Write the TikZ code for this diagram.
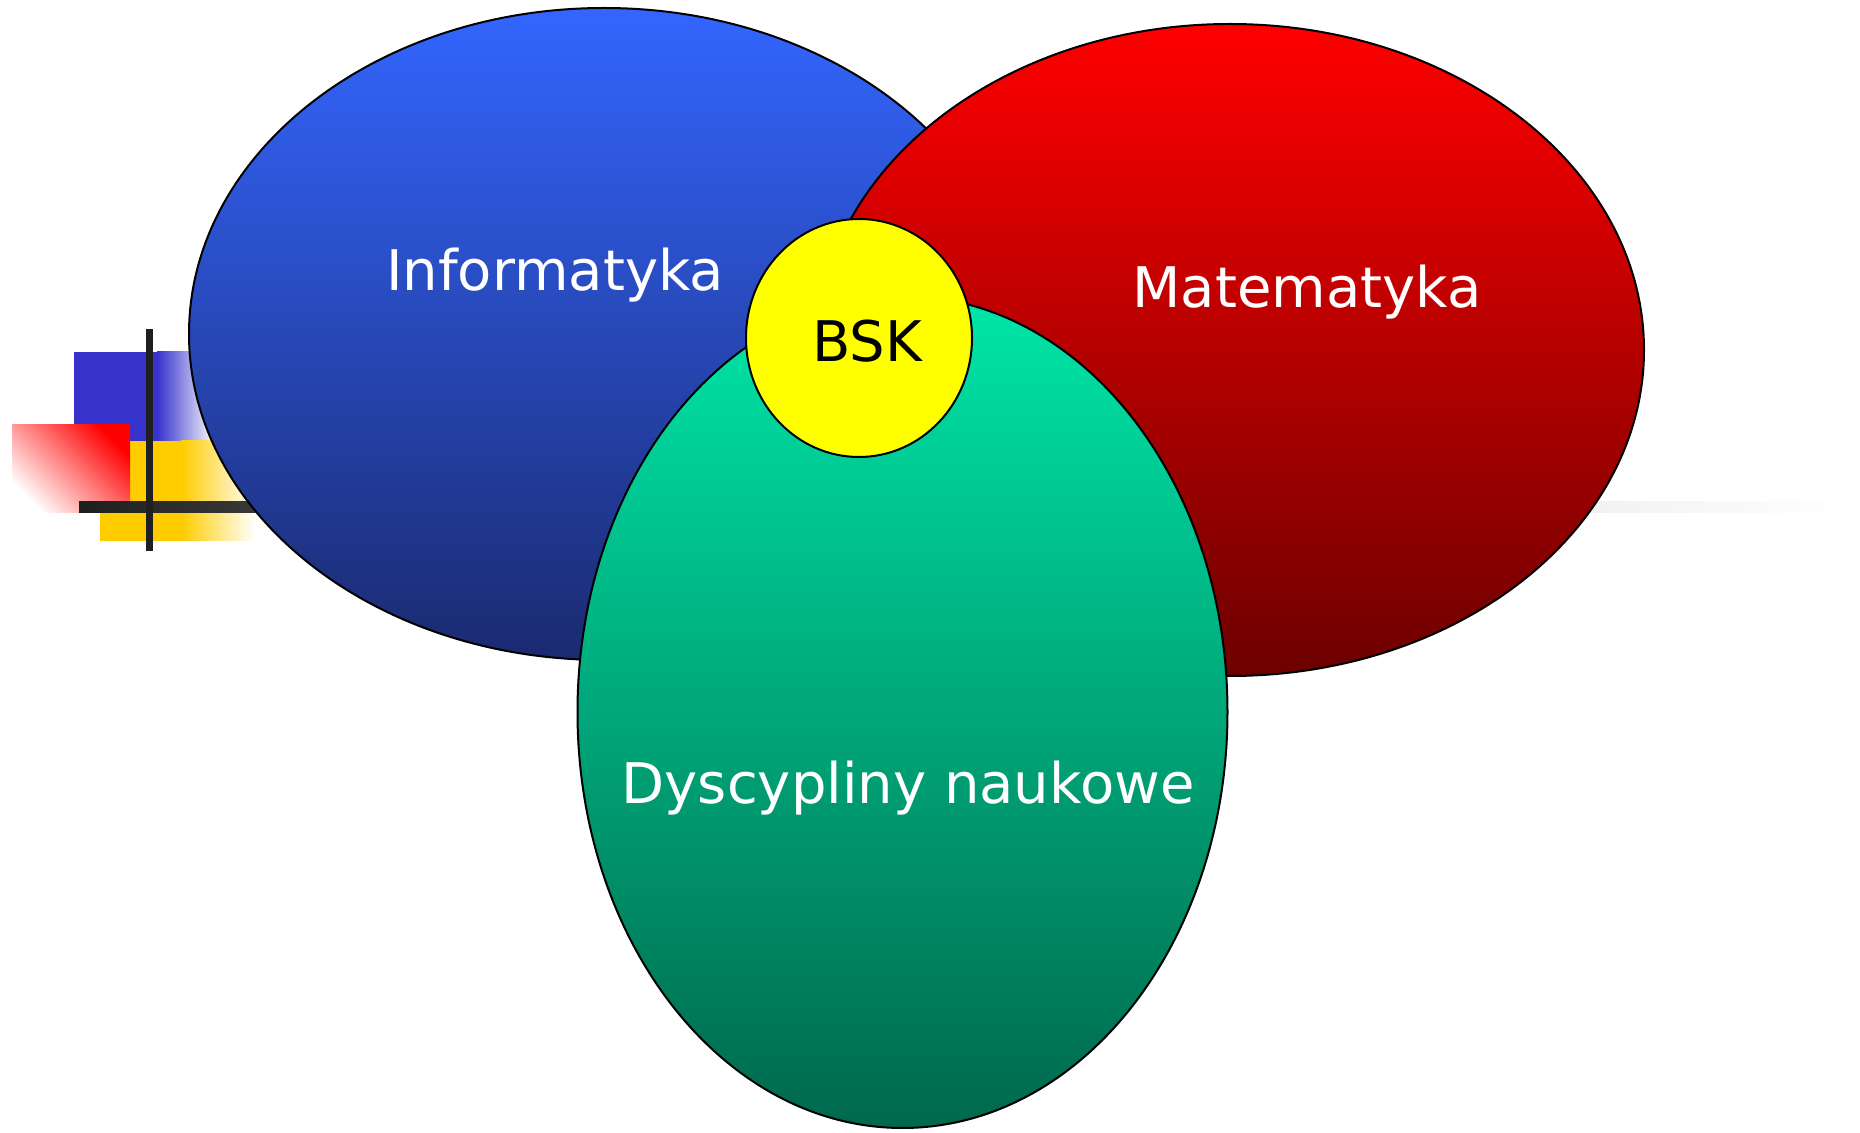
\documentclass[tikz,border=0pt]{standalone}
\usepackage{fontspec}
\setmainfont{DejaVu Sans}
\usetikzlibrary{shapes.geometric}
\definecolor{infotop}{RGB}{51,102,255}
\definecolor{infobot}{RGB}{27,42,112}
\definecolor{mattop}{RGB}{255,0,0}
\definecolor{matbot}{RGB}{108,0,0}
\definecolor{dystop}{RGB}{0,230,168}
\definecolor{dysbot}{RGB}{0,104,76}
\definecolor{decoblue}{RGB}{54,51,204}
\definecolor{decoyellow}{RGB}{255,204,0}
\definecolor{bskyellow}{RGB}{255,255,0}
\definecolor{decored}{RGB}{255,0,0}
\pgfdeclarehorizontalshading{linefade}{100bp}{color(0bp)=(black!88); color(25bp)=(black!88); color(30bp)=(black!78); color(50bp)=(black!30); color(68bp)=(black!5); color(75bp)=(white); color(100bp)=(white)}
\tikzset{
  bubble/.style={draw=black, line width=1pt},
  label/.style={font=\fontsize{28}{32}\selectfont, text=white, anchor=base, inner sep=0pt},
}
\begin{document}
\begin{tikzpicture}[x=0.5pt, y=-0.5pt]
\useasboundingbox (0,0) rectangle (1860,1133);
% decoration
\fill[decoblue] (74,352) rectangle (158,441);
\shade[left color=decoblue, right color=white] (157,352) rectangle (215,441);
\fill[decoyellow] (100,441) rectangle (182,541);
\shade[left color=decoyellow, right color=white] (181,441) rectangle (255,541);
\shade[shading=axis, top color=decored, bottom color=white, shading angle=-45] (12,425) rectangle (130,513);
\shade[shading=linefade] (79,502) rectangle (1850,513);
\fill[black!88] (146,329) rectangle (153,551);
% big ellipses
\shade[bubble, top color=infotop, bottom color=infobot] (604,334) ellipse [x radius=415, y radius=326];
\shade[bubble, top color=mattop, bottom color=matbot] (1230,350) ellipse [x radius=414, y radius=326];
\shade[bubble, top color=dystop, bottom color=dysbot] (902.5,712) ellipse [x radius=325, y radius=416];
\node[bubble, ellipse, fill=bskyellow, minimum width=113pt, minimum height=119pt, inner sep=0pt] (bsk) at (859,338) {};
% labels
\node[label] (info) at (555,291) {Informatyka};
\node[label] (mat) at (1307,308) {Matematyka};
\node[label] (dys) at (908,804) {Dyscypliny naukowe};
\node[label, text=black] (bsklabel) at (867,362) {BSK};
\end{tikzpicture}
\end{document}
